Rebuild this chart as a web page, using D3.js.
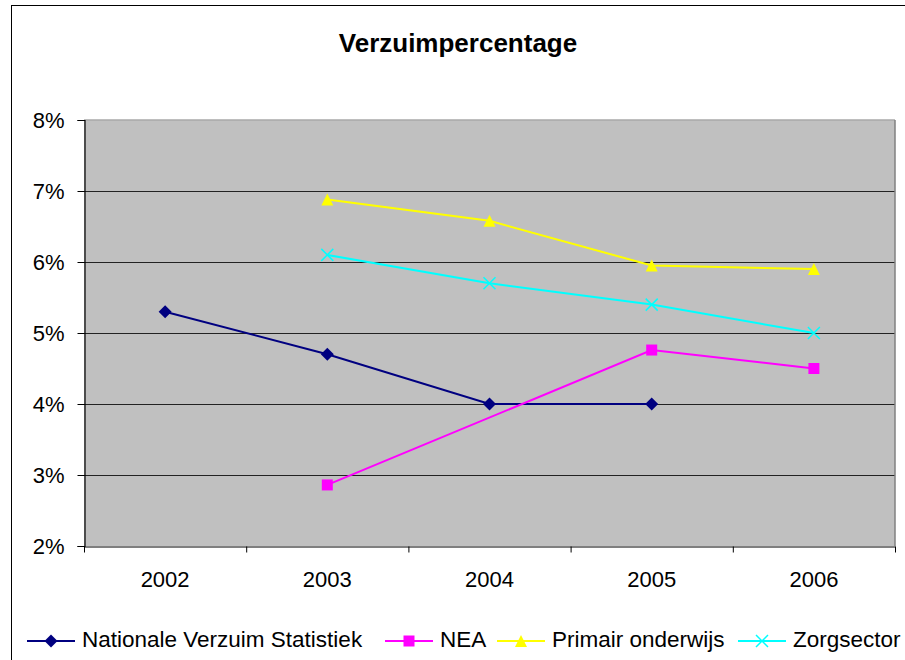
<!DOCTYPE html>
<html>
<head>
<meta charset="utf-8">
<script src="https://cdn.jsdelivr.net/npm/d3@7/dist/d3.min.js"></script>
<style>
  body { margin: 0; background: #fff; }
  text { font-family: Arial, "Liberation Sans", sans-serif; }
</style>
</head>
<body>
<svg id="viz" width="905" height="660"></svg>
<script>
// data
var years = ["2002", "2003", "2004", "2005", "2006"];
var nationale = [5.3, 4.7, 4.0, 4.0, null];
var nea = [null, 2.86, null, 4.76, 4.5];
var primair = [null, 6.88, 6.58, 5.95, 5.9];
var zorg = [null, 6.1, 5.7, 5.4, 5.0];
var yTicks = [2, 3, 4, 5, 6, 7, 8];

var series = [
  { name: "Nationale Verzuim Statistiek", values: nationale, color: "#000080", symbol: "diamond" },
  { name: "NEA", values: nea, color: "#FF00FF", symbol: "square" },
  { name: "Primair onderwijs", values: primair, color: "#FFFF00", symbol: "triangle" },
  { name: "Zorgsector", values: zorg, color: "#00FFFF", symbol: "cross" }
];

var svg = d3.select("#viz");
var plot = { left: 84, top: 120, right: 895, bottom: 546 };
var font = "Arial, 'Liberation Sans', sans-serif";

// outer chart border
svg.append("rect")
  .attr("x", 11.5).attr("y", 5.5)
  .attr("width", 905).attr("height", 700)
  .attr("fill", "#fff").attr("stroke", "#000").attr("stroke-width", 1);

svg.append("text")
  .attr("x", 458).attr("y", 52)
  .attr("text-anchor", "middle")
  .style("font-size", "26px").style("font-weight", "bold")
  .text("Verzuimpercentage");

var x = d3.scaleBand().domain(years).range([plot.left, plot.right]);
var y = d3.scaleLinear().domain([2, 8]).range([plot.bottom, plot.top]);

svg.append("rect")
  .attr("x", plot.left).attr("y", plot.top)
  .attr("width", plot.right - plot.left).attr("height", plot.bottom - plot.top)
  .attr("fill", "#C0C0C0");

// grid lines
svg.append("g").selectAll("line")
  .data(yTicks.slice(1, -1))
  .enter().append("line")
  .attr("x1", plot.left).attr("x2", plot.right)
  .attr("y1", function (d) { return y(d) + 0.5; })
  .attr("y2", function (d) { return y(d) + 0.5; })
  .attr("stroke", "#222").attr("stroke-width", 1.2);

// plot border: top light, right gray
svg.append("line")
  .attr("x1", plot.left).attr("x2", plot.right)
  .attr("y1", plot.top).attr("y2", plot.top)
  .attr("stroke", "#a8a8a8").attr("stroke-width", 1.5);
svg.append("line")
  .attr("x1", plot.right).attr("x2", plot.right)
  .attr("y1", plot.top).attr("y2", plot.bottom)
  .attr("stroke", "#808080").attr("stroke-width", 1.5);

// y axis
var yAxis = svg.append("g")
  .attr("transform", "translate(" + (plot.left + 0.5) + ",0)")
  .call(d3.axisLeft(y).tickValues(yTicks).tickSize(7).tickPadding(13)
    .tickFormat(function (d) { return d + "%"; }));
yAxis.selectAll("text").style("font-size", "22px").attr("fill", "#000")
  .style("font-family", font).attr("dy", "0.36em");

// x axis with ticks at the category boundaries
var xAxis = svg.append("g")
  .attr("transform", "translate(0," + (plot.bottom + 0.5) + ")")
  .call(d3.axisBottom(x).tickSize(0));
xAxis.selectAll("text").style("font-size", "22px").attr("fill", "#000")
  .style("font-family", font).attr("y", 40).attr("dy", 0);
xAxis.selectAll(".tick line").remove();
var bounds = years.map(function (d) { return x(d); }).concat([plot.right]);
xAxis.selectAll(".bnd").data(bounds).enter().append("line")
  .attr("x1", function (d) { return d + 0.5; }).attr("x2", function (d) { return d + 0.5; })
  .attr("y1", 0).attr("y2", 6).attr("stroke", "#000");
yAxis.select(".domain").attr("stroke", "#000").attr("stroke-width", 1.2);
xAxis.select(".domain").attr("stroke", "#000").attr("stroke-width", 1.2);

function cx(i) { return x(years[i]) + x.bandwidth() / 2; }

function drawMarker(g, s, px, py) {
  if (s.symbol === "diamond") {
    g.append("path").attr("d", "M" + px + "," + (py - 6.5) + "L" + (px + 6.5) + "," + py + "L" + px + "," + (py + 6.5) + "L" + (px - 6.5) + "," + py + "Z")
      .attr("fill", s.color);
  } else if (s.symbol === "square") {
    g.append("rect").attr("x", px - 5.5).attr("y", py - 5.5).attr("width", 11).attr("height", 11).attr("fill", s.color);
  } else if (s.symbol === "triangle") {
    g.append("path").attr("d", "M" + px + "," + (py - 6) + "L" + (px + 6) + "," + (py + 6) + "L" + (px - 6) + "," + (py + 6) + "Z")
      .attr("fill", s.color);
  } else {
    g.append("path").attr("d", "M" + (px - 6) + "," + (py - 6) + "L" + (px + 6) + "," + (py + 6) + "M" + (px + 6) + "," + (py - 6) + "L" + (px - 6) + "," + (py + 6))
      .attr("stroke", s.color).attr("stroke-width", 1.5).attr("fill", "none");
  }
}

var line = d3.line()
  .x(function (d) { return cx(d.i); })
  .y(function (d) { return y(d.v); });

series.forEach(function (s) {
  var pts = [];
  s.values.forEach(function (v, i) { if (v != null) pts.push({ i: i, v: v }); });
  var g = svg.append("g");
  g.append("path").datum(pts).attr("d", line)
    .attr("fill", "none").attr("stroke", s.color).attr("stroke-width", 2);
  pts.forEach(function (p) { drawMarker(g, s, cx(p.i), y(p.v)); });
});

// legend
var legendX = [27, 385, 497, 738];
var legendY = 641;
series.forEach(function (s, k) {
  var g = svg.append("g");
  g.append("line").attr("x1", legendX[k]).attr("x2", legendX[k] + 48)
    .attr("y1", legendY).attr("y2", legendY)
    .attr("stroke", s.color).attr("stroke-width", 2);
  drawMarker(g, s, legendX[k] + 24, legendY);
  g.append("text").attr("x", legendX[k] + 55).attr("y", 647)
    .style("font-size", "22.5px").text(s.name);
});
</script>
</body>
</html>
